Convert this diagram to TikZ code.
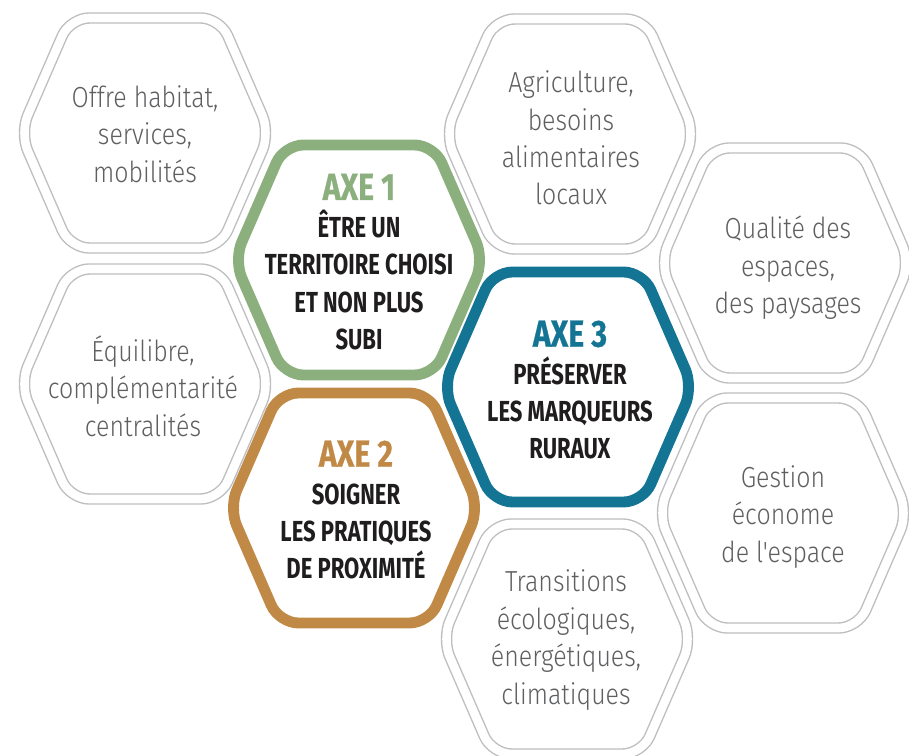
\documentclass[tikz,border=0pt]{standalone}
\usepackage{fontspec}
\newfontfamily\thinfont{Fira Sans Light}[FakeStretch=0.86]
\newfontfamily\capsfont{Fira Sans}[FakeStretch=0.76]
\newfontfamily\titlefont{Fira Sans}[FakeStretch=0.8,FakeBold=0.6]

\definecolor{hexgrey}{HTML}{BDBEC0}
\definecolor{txtgrey}{HTML}{5E5F61}
\definecolor{txtdark}{HTML}{1F1D1E}
\definecolor{axegreen}{HTML}{8CAF7E}
\definecolor{axebrown}{HTML}{C08A46}
\definecolor{axeblue}{HTML}{147493}

% hexagon outline round the local origin
\newcommand\hexa{(-125,0) -- (-75,-115) -- (75,-115) -- (125,0) -- (75,115) -- (-75,115) -- cycle}

\tikzset{
  cell/.style={draw=hexgrey, line width=0.8pt, double=white, double distance=4.9pt, rounded corners=11pt},
  axecell/.style={draw=#1, line width=6.2pt, rounded corners=11pt},
  celltext/.style={align=center, text=txtgrey, font=\thinfont\fontsize{16.5}{21.3}\selectfont},
  axetext/.style={align=center, text=txtdark, font=\capsfont\bfseries\fontsize{16.5}{21.3}\selectfont}
}
\newcommand\axetitle[2]{{\color{#1}\titlefont\bfseries\fontsize{21.5}{21.3}\selectfont #2}}

\begin{document}
\begin{tikzpicture}[x=0.02cm,y=-0.02cm]
    \useasboundingbox (0,0) rectangle (909,756);
    % grey cells
    \draw[cell, shift={(145,133)}] \hexa;
    \draw[cell, shift={(145,384)}] \hexa;
    \draw[cell, shift={(570,134)}] \hexa;
    \draw[cell, shift={(785,263)}] \hexa;
    \draw[cell, shift={(783,513)}] \hexa;
    \draw[cell, shift={(567,639)}] \hexa;
    \node[celltext] (offre) at (145,134) {Offre habitat,\\services,\\mobilités};
    \node[celltext] (equilibre) at (143,386) {Équilibre,\\complémentarité\\centralités};
    \node[celltext] (agri) at (571,138) {Agriculture,\\besoins\\alimentaires\\locaux};
    \node[celltext] (qualite) at (788,268) {Qualité des\\espaces,\\des paysages};
    \node[celltext] (gestion) at (783,517) {Gestion\\économe\\de l'espace};
    \node[celltext] (transitions) at (566,640) {Transitions\\écologiques,\\énergétiques,\\climatiques};
    % the three axes
    \draw[axecell=axegreen, shift={(359,260)}] \hexa;
    \draw[axecell=axebrown, shift={(354,508)}] \hexa;
    \draw[axecell=axeblue, shift={(568,387)}] \hexa;
    \node[axetext] (axe1) at (359,262)
        {\axetitle{axegreen}{AXE 1}\\ÊTRE UN\\TERRITOIRE CHOISI\\ET NON PLUS\\SUBI};
    \node[axetext] (axe2) at (356,510)
        {\axetitle{axebrown}{AXE 2}\\SOIGNER\\LES PRATIQUES\\DE PROXIMITÉ};
    \node[axetext] (axe3) at (570,390)
        {\axetitle{axeblue}{AXE 3}\\PRÉSERVER\\LES MARQUEURS\\RURAUX};
\end{tikzpicture}
\end{document}
